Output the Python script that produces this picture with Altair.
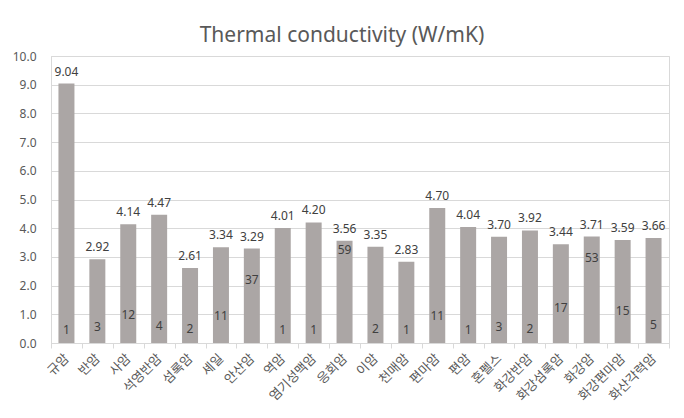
import altair as alt
import pandas as pd

categories = ["규암", "반암", "사암", "석영반암", "섬록암", "셰일", "안산암", "역암", "염기성맥암", "응회암",
              "이암", "천매암", "편마암", "편암", "혼펠스", "화강반암", "화강섬록암", "화강암", "화강편마암", "화산각력암"]
values = [9.04, 2.92, 4.14, 4.47, 2.61, 3.34, 3.29, 4.01, 4.20, 3.56,
          3.35, 2.83, 4.70, 4.04, 3.70, 3.92, 3.44, 3.71, 3.59, 3.66]
counts = [1, 3, 12, 4, 2, 11, 37, 1, 1, 59, 2, 1, 11, 1, 3, 2, 17, 53, 15, 5]

df = pd.DataFrame({"rock": categories, "k": values, "n": counts})

GRID = "#D9D9D9"
TXT = "#595959"
LBL = "#404040"

x = alt.X("rock:N", sort=categories, title=None,
          scale=alt.Scale(paddingInner=0, paddingOuter=0),
          axis=alt.Axis(labelAngle=-45, labelAlign="right", labelBaseline="middle",
                        labelPadding=8, labelFont="Noto Sans CJK KR", labelFontSize=13,
                        labelColor=TXT, tickBand="extent", tickSize=5, tickColor=GRID,
                        domainColor=GRID, grid=False, labelOverlap=False))

y = alt.Y("k:Q", title=None,
          scale=alt.Scale(domain=[0, 10], nice=False),
          axis=alt.Axis(values=list(range(0, 11)), format=".1f", tickSize=0, labelPadding=15,
                        labelFont="Noto Sans", labelFontSize=12, labelColor=TXT,
                        gridColor=GRID, domainColor=GRID))

base = alt.Chart(df)

bars = base.mark_bar(size=16, color="#ABA6A5").encode(x=x, y=y)

vals = base.mark_text(baseline="middle", dy=-12, font="Noto Sans", fontSize=12, color=LBL).encode(
    x=x, y=y, text=alt.Text("k:Q", format=".2f"))

cnt = base.mark_text(baseline="middle", dy=-11.6, font="Noto Sans", fontSize=12, color=LBL).encode(
    x=x,
    y=alt.Y("n:Q", scale=alt.Scale(domain=[0, 208], nice=False), axis=None),
    text=alt.Text("n:Q"))

chart = alt.layer(alt.layer(bars, vals), cnt).resolve_scale(y="independent").properties(
    width=618, height=287,
    autosize=alt.AutoSizeParams(type="none"),
    padding={"left": 43, "top": 48, "right": 7, "bottom": 67},
    title=alt.TitleParams("Thermal conductivity (W/mK)", font="Noto Sans", fontSize=21,
                          fontWeight="normal", color=TXT, anchor="middle", dx=-18, offset=4),
    background="white",
).configure_view(stroke=GRID)

chart.save("out.html", embed_options={"renderer": "svg", "actions": False})
